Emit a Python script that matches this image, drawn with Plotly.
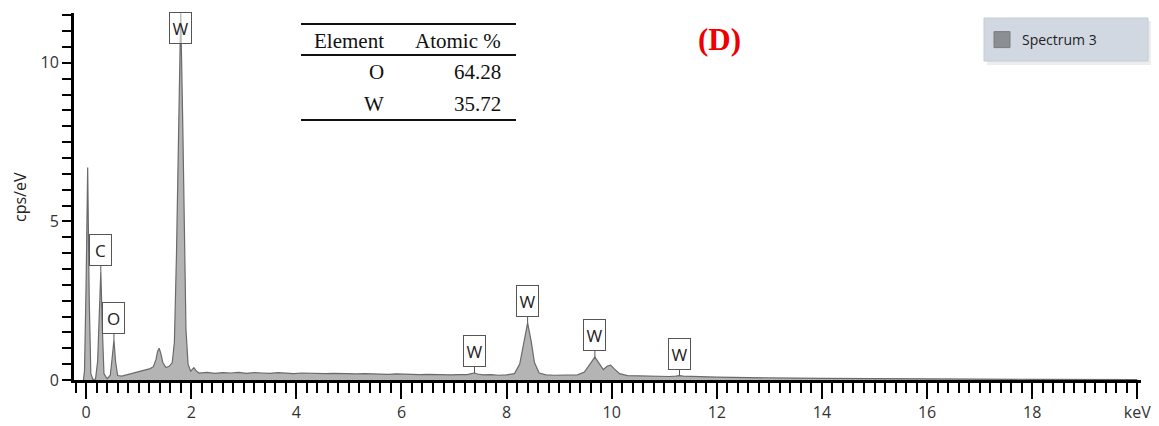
import plotly.graph_objects as go

# ---------------- data ----------------
energy_kev = [
    -0.05, -0.03, 0.00, 0.03, 0.06, 0.09, 0.13, 0.18, 0.22, 0.25, 0.28, 0.31, 0.34, 0.40,
    0.46, 0.49, 0.53, 0.56, 0.60, 0.68, 0.77, 0.85, 0.92, 1.00, 1.08, 1.15, 1.22, 1.28,
    1.33, 1.36, 1.39, 1.42, 1.46, 1.52, 1.58, 1.64, 1.68, 1.72, 1.76, 1.80, 1.84, 1.87,
    1.90, 1.94, 1.99, 2.05, 2.10, 2.15, 2.30, 2.45, 2.60, 2.75, 2.90, 3.05, 3.20, 3.35,
    3.50, 3.65, 3.80, 3.95, 4.10, 4.25, 4.40, 4.55, 4.70, 4.85, 5.00, 5.15, 5.30, 5.45,
    5.60, 5.75, 5.90, 6.05, 6.20, 6.35, 6.50, 6.65, 6.80, 6.95, 7.10, 7.25, 7.33, 7.39,
    7.45, 7.55, 7.70, 7.85, 8.00, 8.15, 8.25, 8.32, 8.40, 8.47, 8.53, 8.62, 8.75, 8.90,
    9.05, 9.20, 9.35, 9.48, 9.58, 9.68, 9.77, 9.84, 9.92, 9.98, 10.05, 10.15, 10.30, 10.50,
    10.70, 10.90, 11.10, 11.22, 11.29, 11.36, 11.50, 11.70, 12.00, 12.30, 12.60, 13.00,
    13.50, 14.00, 14.50, 15.00, 15.50, 16.00, 17.00, 18.00, 19.00, 20.00,
]
cps_per_ev = [
    0.00, 0.30, 3.00, 6.70, 2.50, 0.20, 0.02, 0.03, 0.60, 2.00, 3.42, 1.60, 0.20, 0.04,
    0.15, 0.60, 1.26, 0.60, 0.14, 0.12, 0.16, 0.20, 0.23, 0.26, 0.31, 0.32, 0.36, 0.42,
    0.65, 0.90, 1.00, 0.85, 0.55, 0.39, 0.43, 0.55, 1.20, 4.00, 8.50, 11.60, 8.00, 4.00,
    1.60, 0.50, 0.28, 0.39, 0.28, 0.22, 0.24, 0.21, 0.23, 0.22, 0.24, 0.21, 0.23, 0.22,
    0.21, 0.23, 0.22, 0.20, 0.22, 0.21, 0.22, 0.20, 0.21, 0.20, 0.21, 0.19, 0.20, 0.19,
    0.20, 0.18, 0.19, 0.18, 0.19, 0.17, 0.18, 0.17, 0.18, 0.16, 0.17, 0.17, 0.20, 0.22,
    0.19, 0.16, 0.17, 0.15, 0.16, 0.20, 0.50, 1.10, 1.80, 1.20, 0.55, 0.22, 0.16, 0.15,
    0.15, 0.14, 0.16, 0.25, 0.48, 0.72, 0.50, 0.33, 0.44, 0.47, 0.35, 0.20, 0.14, 0.13,
    0.12, 0.12, 0.11, 0.12, 0.14, 0.12, 0.11, 0.10, 0.09, 0.08, 0.08, 0.07,
    0.06, 0.05, 0.05, 0.04, 0.04, 0.03, 0.03, 0.02, 0.02, 0.01,
]
series_name = "Spectrum 3"
y_title = "cps/eV"

# peak labels: element, energy (keV), peak height (cps/eV)
peak_labels = ["C", "O", "W", "W", "W", "W"]
peak_energy = [0.28, 0.53, 7.39, 8.40, 9.68, 11.29]
peak_height = [3.42, 1.26, 0.22, 1.80, 0.72, 0.14]
main_peak_label = "W"
main_peak_energy = 1.80
main_peak_label_y = 11.1

# composition table
table_header = ["Element", "Atomic %"]
table_elements = ["O", "W"]
table_atomic = [64.28, 35.72]
panel_tag = "(D)"

x_tick_vals = [0, 2, 4, 6, 8, 10, 12, 14, 16, 18, 20]
x_tick_text = ["0", "2", "4", "6", "8", "10", "12", "14", "16", "18", "keV"]
y_tick_vals = [0, 5, 10]

# ---------------- layout geometry (pixels) ----------------
W, H = 1159, 426
PL, PR, PT, PB = 74, 1141, 13, 380          # plot area edges


def px(xp):
    return (xp - PL) / (PR - PL)


def py(yp):
    return (PB - yp) / (PB - PT)


fig = go.Figure()
fig.add_trace(go.Scatter(
    x=energy_kev, y=cps_per_ev, mode="lines", fill="tozeroy",
    fillcolor="#b4b4b4", line=dict(color="#6a6a6a", width=1.2),
    name=series_name, showlegend=False, hoverinfo="x+y",
))
# legend swatch (square marker)
fig.add_trace(go.Scatter(
    x=[None], y=[None], mode="markers", name=series_name,
    marker=dict(symbol="square", size=19, color="#8b8e93",
                line=dict(color="#7a7d82", width=1)),
    showlegend=True,
))

label_font = dict(family="Open Sans", size=17, color="#222")
annotations = []
# peak callouts
for lab, xe, yh in zip(peak_labels, peak_energy, peak_height):
    annotations.append(dict(
        x=xe, y=yh, xref="x", yref="y", text=lab, showarrow=True,
        arrowhead=0, arrowwidth=1, arrowcolor="#555", ax=0, ay=-22,
        standoff=0, bordercolor="#555", borderwidth=1, borderpad=2,
        bgcolor="white", width=17, height=26, font=label_font,
    ))
annotations.append(dict(
    x=main_peak_energy, y=main_peak_label_y, xref="x", yref="y",
    text=main_peak_label, showarrow=False, bordercolor="#555", borderwidth=1,
    borderpad=2, bgcolor="rgba(255,255,255,0.55)", width=17, height=26,
    font=label_font,
))

# y axis title
annotations.append(dict(x=px(20), y=py(197), xref="paper", yref="paper",
                        text=y_title, showarrow=False, textangle=-90,
                        xanchor="center", yanchor="middle",
                        font=dict(family="Open Sans", size=16, color="#222")))

# table text
serif = dict(family="Liberation Serif", size=21, color="#111")
col_right = [386, 503]
row_y = [41, 72, 104]
for txt, xr in zip(table_header, col_right):
    annotations.append(dict(x=px(xr), y=py(row_y[0]), xref="paper", yref="paper",
                            text=txt, showarrow=False, xanchor="right",
                            yanchor="middle", font=serif))
for i, (el, val) in enumerate(zip(table_elements, table_atomic)):
    annotations.append(dict(x=px(col_right[0]), y=py(row_y[i + 1]), xref="paper",
                            yref="paper", text=el, showarrow=False,
                            xanchor="right", yanchor="middle", font=serif))
    annotations.append(dict(x=px(col_right[1]), y=py(row_y[i + 1]), xref="paper",
                            yref="paper", text=f"{val:.2f}", showarrow=False,
                            xanchor="right", yanchor="middle", font=serif))

annotations.append(dict(x=px(719), y=py(40), xref="paper", yref="paper",
                        text=f"<b>{panel_tag}</b>", showarrow=False,
                        xanchor="center", yanchor="middle",
                        font=dict(family="Liberation Serif", size=31, color="#ee0000")))

shapes = []
for yl in (24, 55, 120):
    shapes.append(dict(type="line", xref="paper", yref="paper",
                       x0=px(301), x1=px(516), y0=py(yl), y1=py(yl),
                       line=dict(color="#111", width=2)))
# legend panel + shadow
shapes.append(dict(type="rect", xref="paper", yref="paper",
                   x0=px(987), x1=px(1151), y0=py(21), y1=py(65),
                   fillcolor="rgba(0,0,0,0.07)", line=dict(width=0), layer="above"))
shapes.append(dict(type="rect", xref="paper", yref="paper",
                   x0=px(984), x1=px(1148), y0=py(18), y1=py(61),
                   fillcolor="#d1d8e2", line=dict(color="#c4ccd7", width=1),
                   layer="above"))

tick_font = dict(family="Open Sans", size=16, color="#333")
fig.update_layout(
    width=W, height=H,
    margin=dict(l=PL, r=W - PR, t=PT, b=H - PB, pad=0, autoexpand=False),
    paper_bgcolor="white", plot_bgcolor="white",
    font=dict(family="Open Sans", color="#222"),
    showlegend=True,
    legend=dict(x=px(982), y=py(40), xref="paper", yref="paper",
                xanchor="left", yanchor="middle", bgcolor="rgba(0,0,0,0)",
                borderwidth=0, font=dict(family="Open Sans", size=14, color="#222")),
    annotations=annotations, shapes=shapes,
    xaxis=dict(
        range=[-0.23, 20.07], showgrid=False, zeroline=False, automargin=False,
        showline=True, linecolor="black", linewidth=3,
        tickmode="array", tickvals=x_tick_vals, ticktext=x_tick_text,
        ticks="outside", ticklen=16, tickwidth=2, tickcolor="black",
        tickfont=tick_font,
        minor=dict(dtick=0.2, tick0=0, ticks="outside", ticklen=10,
                   tickwidth=2, tickcolor="black", showgrid=False),
    ),
    yaxis=dict(
        range=[0, 11.57], showgrid=False, zeroline=False, automargin=False,
        showline=True, linecolor="black", linewidth=3,
        tickmode="array", tickvals=y_tick_vals,
        ticks="outside", ticklen=9, tickwidth=2, tickcolor="black",
        tickfont=tick_font,
        minor=dict(dtick=0.5, tick0=0, ticks="outside", ticklen=9,
                   tickwidth=2, tickcolor="black", showgrid=False),
    ),
)

fig.write_html("out.html")
